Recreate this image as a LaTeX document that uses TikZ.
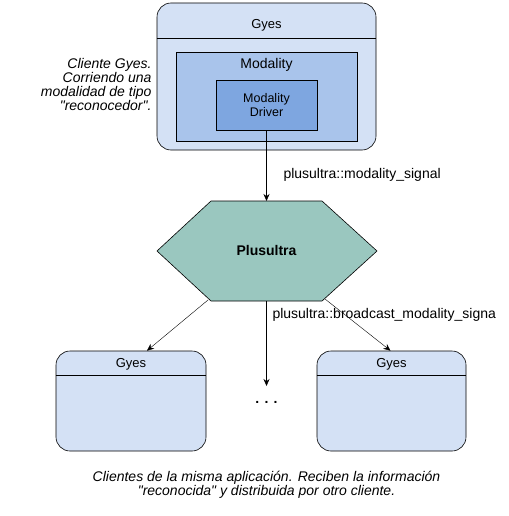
\documentclass[tikz,border=0pt]{standalone}
\usepackage{fontspec}
\setmainfont{Liberation Sans}[Ligatures=TeXOff]
\usepackage{tikz}
\usetikzlibrary{arrows.meta,calc,positioning}
\definecolor{gyesfill}{HTML}{D4E1F5}
\definecolor{modfill}{HTML}{A9C4EB}
\definecolor{drvfill}{HTML}{7EA6E0}
\definecolor{hexfill}{HTML}{9AC7BF}
\tikzset{>={Stealth[length=7pt,width=6pt]}}
\tikzset{gyesbox/.style={draw, fill=gyesfill, rounded corners=14pt, line width=0.6pt}}
\tikzset{plainbox/.style={draw, line width=0.6pt, align=center}}
\tikzset{note/.style={font=\itshape\fontsize{14}{14}\selectfont}}
\begin{document}
\begin{tikzpicture}[x=1pt,y=-1pt,font=\fontsize{14}{16}\selectfont]
\useasboundingbox (0,0) rectangle (508,516);
\node[gyesbox, minimum width=219pt, minimum height=147pt] (gyes) at (266.5,76.5) {};
\draw[line width=0.6pt] ([yshift=-36pt]gyes.north west) -- ([yshift=-36pt]gyes.north east);
\node[font=\fontsize{13}{14}\selectfont] (gyestxt) at (266.5,25) {Gyes};
\node[plainbox, fill=modfill, minimum width=181pt, minimum height=89pt] (mod) at (266.5,96.5) {};
\node (modtxt) at (266.5,65) {Modality};
\node[plainbox, fill=drvfill, minimum width=101pt, minimum height=50pt, font=\fontsize{12.5}{14}\selectfont] (drv) at (266.5,105) {Modality\\Driver};
\node[note, align=right, anchor=north east] (cli) at (155,55) {Cliente Gyes.\\Corriendo una\\modalidad de tipo\\"reconocedor".};
% hexagono
\coordinate (hT1) at (211,201);
\coordinate (hT2) at (322,201);
\coordinate (hR) at (377,251);
\coordinate (hB2) at (322,301);
\coordinate (hB1) at (211,301);
\coordinate (hL) at (157,251);
\draw[fill=hexfill, line width=0.6pt] (hT1) -- (hT2) -- (hR) -- (hB2) -- (hB1) -- (hL) -- cycle;
\node[font=\bfseries\fontsize{14}{16}\selectfont] (plus) at (266.5,250) {Plusultra};
\coordinate (hTop) at (266.5,201);
\coordinate (hBot) at (266.5,301);
\draw[->, line width=0.6pt] (drv.south) -- (hTop);
\node[anchor=west] (sig1) at (280,175) {plusultra::modality\_signal};
% clientes
\node[gyesbox, minimum width=150pt, minimum height=100pt] (gl) at (131,401) {};
\draw[line width=0.6pt] ([yshift=-25pt]gl.north west) -- ([yshift=-25pt]gl.north east);
\node[font=\fontsize{13}{14}\selectfont] (gltxt) at (131,364) {Gyes};
\node[gyesbox, minimum width=149pt, minimum height=100pt] (gr) at (391.5,401) {};
\draw[line width=0.6pt] ([yshift=-25pt]gr.north west) -- ([yshift=-25pt]gr.north east);
\node[font=\fontsize{13}{14}\selectfont] (grtxt) at (391.5,364) {Gyes};
\coordinate (sL) at (208,300);
\coordinate (sR) at (325,299);
\draw[->, line width=0.4pt] (sL) -- ([xshift=16pt]gl.north);
\draw[->, line width=0.6pt] (hBot) -- (266.5,386) coordinate (mid);
\draw[->, line width=0.4pt] (sR) -- ([xshift=-1pt]gr.north);
\node[font=\bfseries\fontsize{14}{14}\selectfont] (dots) at (266.5,402) {. . .};
\node[anchor=west] (sig2) at (269,315) {plusultra::broadcast\_modality\_signa};
\node[note, align=center] (cap) at (266.5,485) {Clientes de la misma aplicación. Reciben la información\\"reconocida" y distribuida por otro cliente.};
\end{tikzpicture}
\end{document}
